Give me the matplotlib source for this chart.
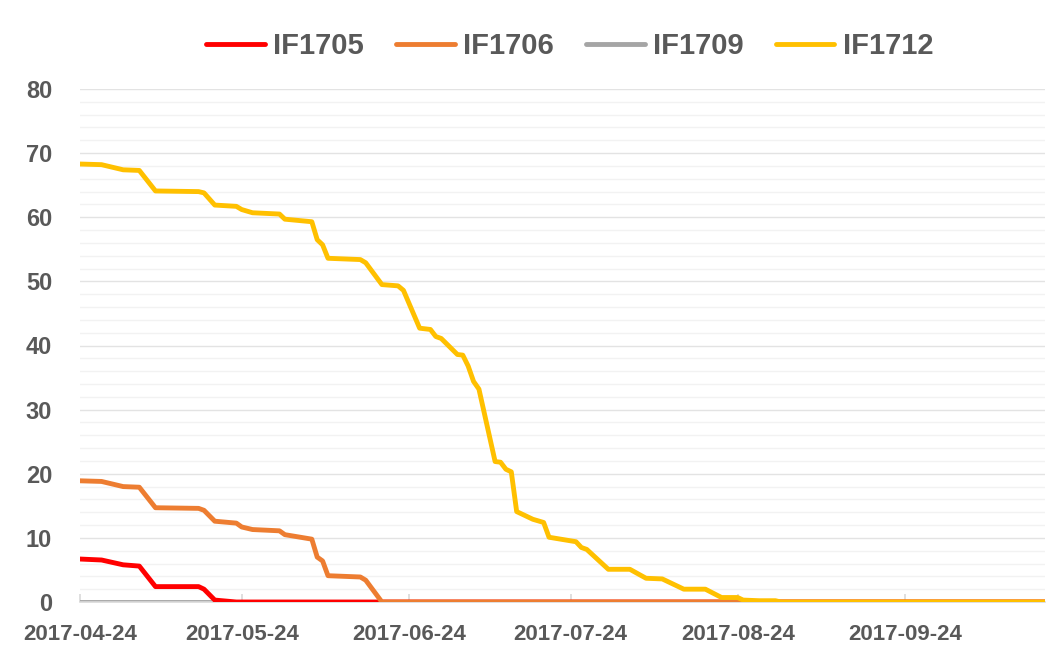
import numpy as np
import pandas as pd
import matplotlib
matplotlib.use("Agg")
import matplotlib.pyplot as plt
import matplotlib.dates as mdates

# trading dates where the lines change slope
dates = ["2017-04-24", "2017-04-28", "2017-05-02", "2017-05-05", "2017-05-08",
         "2017-05-16", "2017-05-17", "2017-05-19", "2017-05-23", "2017-05-24",
         "2017-05-26", "2017-05-31", "2017-06-01", "2017-06-06", "2017-06-07",
         "2017-06-08", "2017-06-09", "2017-06-15", "2017-06-16", "2017-06-19",
         "2017-06-22", "2017-06-23", "2017-06-26", "2017-06-28", "2017-06-29",
         "2017-06-30", "2017-07-03", "2017-07-04", "2017-07-05", "2017-07-06",
         "2017-07-07", "2017-07-10", "2017-07-11", "2017-07-12", "2017-07-13",
         "2017-07-14", "2017-07-17", "2017-07-19", "2017-07-20", "2017-07-25",
         "2017-07-26", "2017-07-27", "2017-07-31", "2017-08-04", "2017-08-07",
         "2017-08-10", "2017-08-14", "2017-08-18", "2017-08-21", "2017-08-24",
         "2017-08-25", "2017-08-28", "2017-08-31", "2017-09-01", "2017-10-20"]

if1705 = [6.7, 6.55, 5.8, 5.6, 2.4, 2.4, 2.0, 0.3, 0, 0,
          0, 0, 0, 0, 0, 0, 0, 0, 0, 0,
          0, 0, 0, 0, 0, 0, 0, 0, 0, 0,
          0, 0, 0, 0, 0, 0, 0, 0, 0, 0,
          0, 0, 0, 0, 0, 0, 0, 0, 0, 0,
          0, 0, 0, 0, 0]
if1706 = [18.9, 18.8, 18.0, 17.9, 14.7, 14.6, 14.3, 12.6, 12.3, 11.7,
          11.3, 11.1, 10.5, 9.8, 7.0, 6.4, 4.1, 3.9, 3.4, 0,
          0, 0, 0, 0, 0, 0, 0, 0, 0, 0,
          0, 0, 0, 0, 0, 0, 0, 0, 0, 0,
          0, 0, 0, 0, 0, 0, 0, 0, 0, 0,
          0, 0, 0, 0, 0]
if1709 = [0, 0, 0, 0, 0, 0, 0, 0, 0, 0,
          0, 0, 0, 0, 0, 0, 0, 0, 0, 0,
          0, 0, 0, 0, 0, 0, 0, 0, 0, 0,
          0, 0, 0, 0, 0, 0, 0, 0, 0, 0,
          0, 0, 0, 0, 0, 0, 0, 0, 0, 0,
          0, 0, 0, 0, 0]
if1712 = [68.3, 68.2, 67.4, 67.3, 64.1, 64.0, 63.8, 61.9, 61.7, 61.2,
          60.7, 60.5, 59.7, 59.3, 56.5, 55.7, 53.6, 53.4, 52.9, 49.5,
          49.3, 48.6, 42.7, 42.5, 41.4, 41.1, 38.6, 38.5, 36.8, 34.4,
          33.2, 21.9, 21.8, 20.7, 20.3, 14.1, 12.9, 12.4, 10.1, 9.4,
          8.5, 8.2, 5.1, 5.1, 3.7, 3.6, 2.0, 2.0, 0.7, 0.7,
          0.3, 0.2, 0.2, 0, 0]

tick_dates = ["2017-04-24", "2017-05-24", "2017-06-24",
              "2017-07-24", "2017-08-24", "2017-09-24"]

x = pd.to_datetime(dates)
text_color = "#595959"
plt.rcParams['font.family'] = ['Liberation Sans', 'DejaVu Sans']

fig = plt.figure(figsize=(10.53, 6.57), dpi=100)
ax = fig.add_axes([80 / 1053, 1 - 602 / 657, 965 / 1053, 513 / 657])

lw = 3.5
ax.plot(x, if1709, color="#A5A5A5", lw=lw, label="IF1709", zorder=2, solid_joinstyle="round")
ax.plot(x, if1705, color="#FF0000", lw=lw, label="IF1705", zorder=3, solid_joinstyle="round")
ax.plot(x, if1706, color="#ED7D31", lw=lw, label="IF1706", zorder=4, solid_joinstyle="round")
ax.plot(x, if1712, color="#FFC000", lw=lw, label="IF1712", zorder=5, solid_joinstyle="round")

ax.set_xlim(x[0], x[-1])
ax.set_ylim(0, 80)
ax.set_yticks(np.arange(0, 81, 10))
ax.set_yticks(np.arange(0, 81, 2), minor=True)
ax.set_xticks(pd.to_datetime(tick_dates))
ax.xaxis.set_major_formatter(mdates.DateFormatter("%Y-%m-%d"))

ax.grid(axis="y", which="major", color="#E3E3E3", lw=1.0, zorder=0)
ax.grid(axis="y", which="minor", color="#F2F2F2", lw=1.0, zorder=0)
ax.set_axisbelow(True)

for s in ["top", "right", "left"]:
    ax.spines[s].set_visible(False)
ax.spines["bottom"].set_color("#D9D9D9")
ax.spines["bottom"].set_linewidth(1.2)

ax.tick_params(axis="y", which="both", length=0, pad=20, labelsize=17,
               labelcolor=text_color)
ax.tick_params(axis="x", which="major", direction="in", length=6, width=1.2,
               color="#D9D9D9", pad=16, labelsize=16, labelcolor=text_color)
ax.tick_params(axis="x", which="minor", length=0)
for lab in ax.get_xticklabels() + ax.get_yticklabels():
    lab.set_fontweight("bold")

handles, labels = ax.get_legend_handles_labels()
order = [1, 2, 0, 3]
leg = fig.legend([handles[i] for i in order], [labels[i] for i in order],
                 loc="center", bbox_to_anchor=(570 / 1053, 1 - 46 / 657),
                 ncol=4, frameon=False, handlelength=2.0, handletextpad=0.3,
                 columnspacing=1.1, prop={"weight": "bold", "size": 21})
for t in leg.get_texts():
    t.set_color(text_color)
for h in leg.get_lines():
    h.set_solid_capstyle("round")

fig.savefig("out.png", dpi=100)
